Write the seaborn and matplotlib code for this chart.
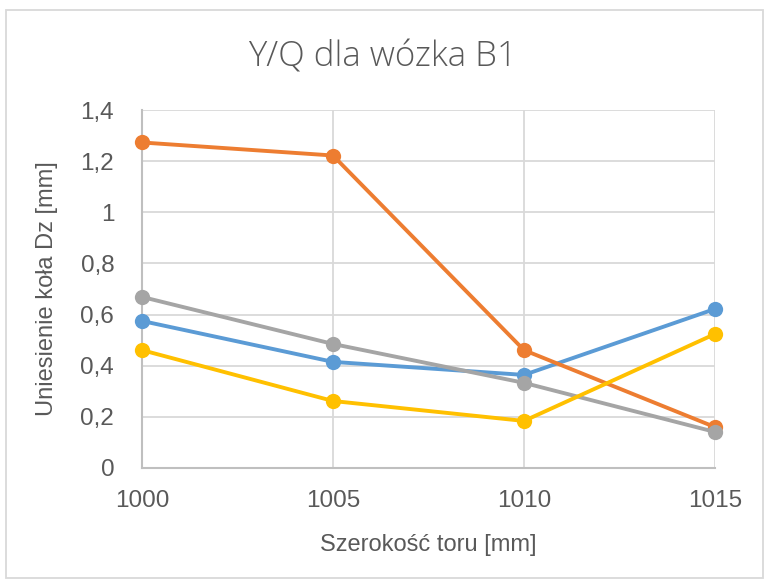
import matplotlib
matplotlib.use("Agg")
import matplotlib.pyplot as plt
import seaborn as sns
import pandas as pd
from matplotlib.ticker import FuncFormatter
from matplotlib.patches import Rectangle

x_values = [1000, 1005, 1010, 1015]
series_blue = [0.575, 0.415, 0.364, 0.622]
series_orange = [1.273, 1.222, 0.461, 0.160]
series_gray = [0.669, 0.485, 0.333, 0.141]
series_yellow = [0.461, 0.262, 0.184, 0.524]
series_names = ["S1", "S2", "S3", "S4"]
colors = ["#5B9BD5", "#ED7D31", "#A5A5A5", "#FFC000"]
y_ticks = [0, 0.2, 0.4, 0.6, 0.8, 1.0, 1.2, 1.4]

rows = []
for name, vals in zip(series_names, [series_blue, series_orange, series_gray, series_yellow]):
    for xv, yv in zip(x_values, vals):
        rows.append({"x": xv, "y": yv, "s": name})
df = pd.DataFrame(rows)

sns.set_theme(style="white")
plt.rcParams['font.family'] = ['Liberation Sans', 'DejaVu Sans']

fig = plt.figure(figsize=(7.65, 5.8), dpi=100)
ax = fig.add_axes([142/765, 1-468/580, (715-142)/765, (468-110)/580])

sns.lineplot(data=df, x="x", y="y", hue="s", palette=colors, marker="o",
             markersize=11, markeredgewidth=0, linewidth=2.8, legend=False, ax=ax, zorder=3)
for ln in ax.get_lines():
    ln.set_clip_on(False)

ax.set_xlim(1000, 1015)
ax.set_ylim(0, 1.4)
ax.set_xticks(x_values)
ax.set_yticks(y_ticks)
ax.yaxis.set_major_formatter(FuncFormatter(lambda v, p: ("%g" % round(v, 1)).replace(".", ",")))
ax.grid(True, color="#D9D9D9", linewidth=1.3)
ax.set_axisbelow(True)
for sp in ["top", "right"]:
    ax.spines[sp].set_visible(False)
for sp in ["left", "bottom"]:
    ax.spines[sp].set_color("#BFBFBF")
    ax.spines[sp].set_linewidth(1.5)
ax.tick_params(axis="both", length=0, labelsize=17.5, colors="#595959")
ax.tick_params(axis="x", pad=16)
ax.tick_params(axis="y", pad=20)
for lbl in ax.get_xticklabels() + ax.get_yticklabels():
    lbl.set_color("#595959")
ax.set_xlabel("Szerokość toru [mm]", fontsize=17, color="#595959", labelpad=16)
ax.set_ylabel("Uniesienie koła Dz [mm]", fontsize=17, color="#595959", labelpad=16)
fig.text(0.5, 1-57/580, "Y/Q dla wózka B1", ha="center", va="center", fontsize=25,
         color="#595959", family=["Open Sans", "DejaVu Sans"], fontweight="light")
fig.patches.append(Rectangle((6/765, 0.003), 757/765, 1-10/580-0.003, transform=fig.transFigure,
                             fill=False, edgecolor="#D9D9D9", linewidth=1.3))
fig.savefig("out.png", dpi=100)
